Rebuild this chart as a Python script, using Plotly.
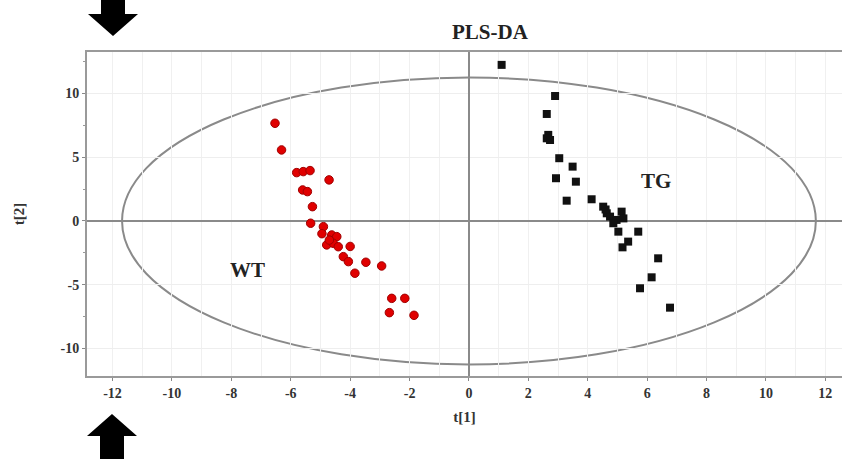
import plotly.graph_objects as go

# WT group scores (t[1], t[2])
wt_t1 = [-6.53, -6.31, -5.80, -5.58, -5.35, -4.71, -5.60, -5.44, -5.27, -5.33,
         -4.90, -4.62, -4.45, -4.79, -4.57, -4.40, -4.00, -4.23, -4.06, -3.84,
         -3.47, -2.94, -2.60, -2.16, -2.68, -1.85, -4.70, -4.95]
wt_t2 = [7.66, 5.57, 3.79, 3.87, 3.95, 3.22, 2.43, 2.30, 1.12, -0.18,
         -0.45, -1.10, -1.23, -1.88, -1.75, -2.02, -2.00, -2.80, -3.19, -4.10,
         -3.24, -3.53, -6.07, -6.07, -7.19, -7.40, -1.50, -1.00]

# TG group scores (t[1], t[2])
tg_t1 = [1.10, 2.90, 2.62, 2.67, 2.62, 2.73, 3.04, 3.49, 2.93, 3.60,
         3.29, 4.13, 4.52, 4.64, 4.75, 5.14, 4.97, 4.86, 5.03, 5.70,
         5.36, 5.17, 6.37, 6.15, 5.76, 6.77, 4.60, 5.20]
tg_t2 = [12.24, 9.80, 8.39, 6.75, 6.48, 6.35, 4.92, 4.26, 3.35, 3.08,
         1.59, 1.70, 1.12, 0.60, 0.34, 0.73, 0.08, -0.18, -0.84, -0.84,
         -1.62, -2.07, -2.93, -4.42, -5.28, -6.80, 0.90, 0.20]

# Hotelling T2 ellipse semi-axes
ell_a = 11.68
ell_b = 11.25

x_ticks = [-12, -10, -8, -6, -4, -2, 0, 2, 4, 6, 8, 10, 12]
y_ticks = [-10, -5, 0, 5, 10]

W, H = 842, 460
ML, MT, MB, MR = 87, 52, 84, 0
PW, PH = W - ML - MR, H - MT - MB

def px(x):
    return (x - ML) / PW

def py(y):
    return (H - MB - y) / PH

serif = "Liberation Serif"

fig = go.Figure()
fig.add_trace(go.Scatter(x=wt_t1, y=wt_t2, mode="markers", name="WT",
                         marker=dict(symbol="circle", size=8.5, color="#e00000",
                                     line=dict(color="#a00000", width=1))))
fig.add_trace(go.Scatter(x=tg_t1, y=tg_t2, mode="markers", name="TG",
                         marker=dict(symbol="square", size=8, color="#111111")))

fig.add_shape(type="circle", xref="x", yref="y", x0=-ell_a, x1=ell_a,
              y0=-ell_b, y1=ell_b, line=dict(color="#8a8a8a", width=2), layer="below")

def arrow(tipx, tipy, down):
    s = 1 if down else -1
    pts = [(tipx, tipy), (tipx - 25, tipy - s * 22), (tipx - 12, tipy - s * 22),
           (tipx - 12, tipy - s * 45), (tipx + 12, tipy - s * 45),
           (tipx + 12, tipy - s * 22), (tipx + 25, tipy - s * 22)]
    path = "M " + " L ".join(f"{px(a):.5f},{py(b):.5f}" for a, b in pts) + " Z"
    fig.add_shape(type="path", xref="paper", yref="paper", path=path,
                  fillcolor="black", line=dict(color="black", width=0))

arrow(113, 36, True)
arrow(112, 414, False)

fig.add_annotation(x=-7.45, y=-3.85, text="<b>WT</b>", showarrow=False,
                   font=dict(family=serif, size=21, color="#222"))
fig.add_annotation(x=6.3, y=3.1, text="<b>TG</b>", showarrow=False,
                   font=dict(family=serif, size=21, color="#222"))
fig.add_annotation(x=px(490), y=py(32), xref="paper", yref="paper",
                   xanchor="center", yanchor="middle",
                   text="<b>PLS-DA</b>", showarrow=False,
                   font=dict(family=serif, size=21, color="#222"))

fig.update_layout(
    width=W, height=H, margin=dict(l=ML, r=MR, t=MT, b=MB, autoexpand=False),
    paper_bgcolor="white", plot_bgcolor="white", showlegend=False,
    font=dict(family=serif, color="#333"),
)
fig.update_xaxes(range=[-12.86, 12.56], tickvals=x_ticks, automargin=False,
                 ticktext=[f"<b>{v}</b>" for v in x_ticks],
                 tickfont=dict(family=serif, size=14, color="#333"),
                 ticks="outside", ticklen=3, tickcolor="#888",
                 showgrid=True, gridcolor="#f0f0f0", gridwidth=1,
                 minor=dict(dtick=1, tick0=0, showgrid=True, gridcolor="#f0f0f0"),
                 zeroline=True, zerolinecolor="#8a8a8a", zerolinewidth=2,
                 showline=True, linecolor="#9a9a9a", linewidth=2, mirror=True,
                 title=dict(text="<b>t[1]</b>", font=dict(family=serif, size=15, color="#333"),
                            standoff=12))
fig.update_yaxes(range=[-12.16, 13.25], tickvals=y_ticks, automargin=False,
                 ticktext=[f"<b>{v}</b>" for v in y_ticks],
                 tickfont=dict(family=serif, size=14, color="#333"),
                 ticks="outside", ticklen=3, tickcolor="#888",
                 showgrid=True, gridcolor="#eeeeee", gridwidth=1,
                 minor=dict(dtick=2.5, tick0=0, ticks="outside", ticklen=2, tickcolor="#999",
                            showgrid=False),
                 zeroline=True, zerolinecolor="#8a8a8a", zerolinewidth=2,
                 showline=True, linecolor="#9a9a9a", linewidth=2, mirror=True,
                 title=dict(text="<b>t[2]</b>", font=dict(family=serif, size=15, color="#333"),
                            standoff=32))

fig.write_html("out.html", config={"displayModeBar": False},
               post_script="document.body.style.margin='0';document.body.style.overflow='hidden';")
